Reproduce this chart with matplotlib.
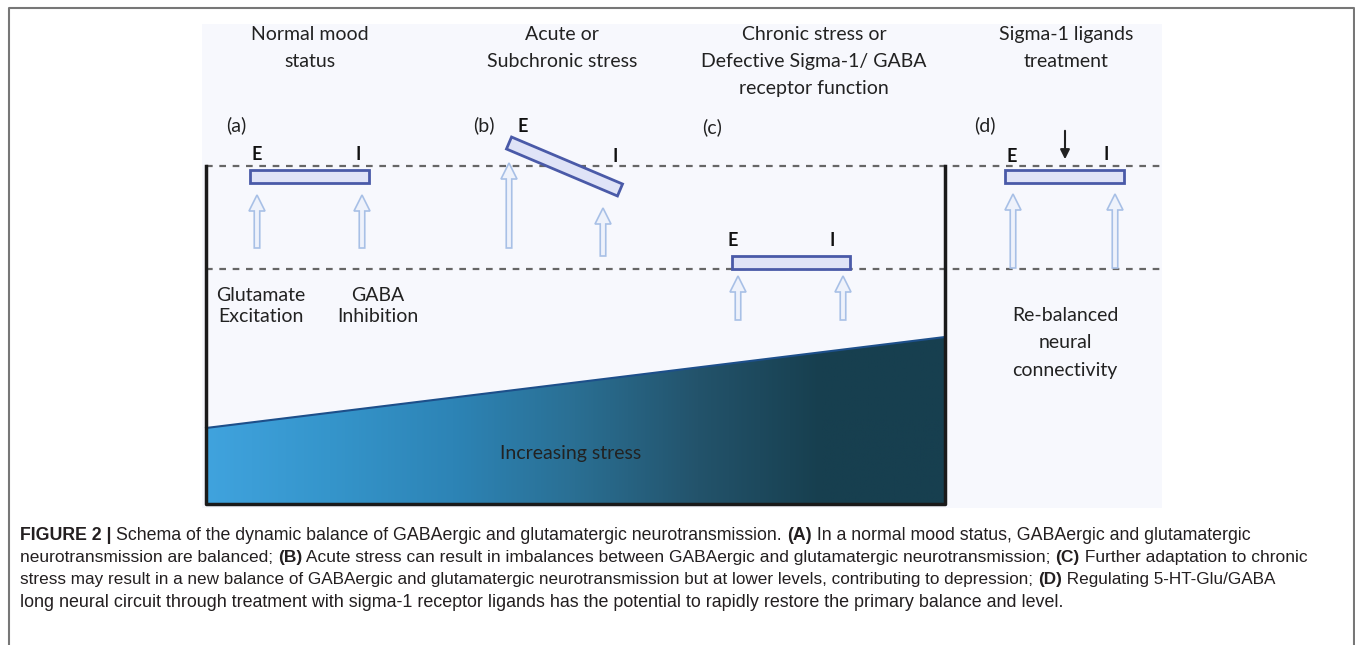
import numpy as np
import matplotlib
matplotlib.use("Agg")
from matplotlib import pyplot as plt
from matplotlib.patches import Rectangle, Polygon, FancyArrow
from matplotlib.colors import LinearSegmentedColormap

# panel headings and labels
titles = ["Normal mood\nstatus", "Acute or\nSubchronic stress",
          "Chronic stress or\nDefective Sigma-1/ GABA\nreceptor function",
          "Sigma-1 ligands\ntreatment"]
title_x = [310, 562, 814, 1066]
panel_tags = ["(a)", "(b)", "(c)", "(d)"]
tag_x = [236, 484, 712, 985]
tag_y = [125, 125, 127, 125]

# balance beams: (x_left, y_left, x_right, y_right) in pixel space
beams = [(250, 176, 369, 176), (509, 143, 620, 190), (732, 262, 850, 262), (1005, 176, 1124, 176)]
e_labels = [(257, 155), (523, 127), (733, 240), (1012, 156)]
i_labels = [(358, 155), (615, 157), (832, 240), (1106, 155)]
# hollow arrows: x, y_tail, y_tip
arrows = [(257, 248, 195), (362, 248, 195),
          (509, 248, 163), (603, 256, 208),
          (738, 320, 276), (843, 320, 276),
          (1013, 268, 194), (1115, 268, 194)]

levels = [166, 269]           # dashed reference levels
stress_left, stress_right = 428, 337
stress_colors = ["#40a3de", "#3595cb", "#2d84b6", "#2a6f93", "#23536b", "#173f4f", "#173f4f"]

caption = [
    [("FIGURE 2 | ", True), ("Schema of the dynamic balance of GABAergic and glutamatergic neurotransmission. ", False),
     ("(A)", True), (" In a normal mood status, GABAergic and glutamatergic", False)],
    [("neurotransmission are balanced; ", False), ("(B)", True),
     (" Acute stress can result in imbalances between GABAergic and glutamatergic neurotransmission; ", False),
     ("(C)", True), (" Further adaptation to chronic", False)],
    [("stress may result in a new balance of GABAergic and glutamatergic neurotransmission but at lower levels, contributing to depression; ", False),
     ("(D)", True), (" Regulating 5-HT-Glu/GABA", False)],
    [("long neural circuit through treatment with sigma-1 receptor ligands has the potential to rapidly restore the primary balance and level.", False)],
]
caption_sizes = [12.8, 12.5, 12.3, 12.9]

W, H = 1355, 645
fig = plt.figure(figsize=(W / 100, H / 100), dpi=100)
ax = fig.add_axes([0, 0, 1, 1])
ax.set_xlim(0, W)
ax.set_ylim(H, 0)
ax.axis("off")

lato = ["Lato", "DejaVu Sans"]
cap_font = ["Liberation Sans", "DejaVu Sans"]
dark = "#222222"
fs = 14

# outer frame
ax.plot([9, 9, 1354, 1354], [H, 8, 8, H], color="#777777", lw=1.5, zorder=1)

# light panel
ax.add_patch(Rectangle((202, 24), 960, 484, facecolor="#f7f8fd", edgecolor="none", zorder=0))

# stress wedge with gradient
grad = np.linspace(0, 1, 256).reshape(1, -1)
cmap = LinearSegmentedColormap.from_list("stress", stress_colors)
im = ax.imshow(grad, cmap=cmap, extent=(206, 945, 504, stress_right), aspect="auto", zorder=2)
wedge = Polygon([(206, 504), (206, stress_left), (945, stress_right), (945, 504)], closed=True,
                facecolor="none", edgecolor="none")
ax.add_patch(wedge)
im.set_clip_path(wedge)
ax.plot([206, 945], [stress_left, stress_right], color="#1d4f8a", lw=1.5, zorder=3)
ax.text(571, 453, "Increasing stress", ha="center", va="center", fontsize=fs, color=dark,
        family=lato, zorder=4)

# box lines
ax.plot([206, 206, 945, 945], [levels[0], 504, 504, levels[0]], color="#1a1a1a", lw=2.5, zorder=4)

# dashed levels
for y in levels:
    ax.plot([206, 1160], [y, y], color="#666666", lw=1.6, ls=(0, (3, 3)), zorder=3)

for t, x in zip(titles, title_x):
    ax.text(x, 26, t, ha="center", va="top", fontsize=fs, color=dark, family=lato, linespacing=1.72)
for t, x, y in zip(panel_tags, tag_x, tag_y):
    ax.text(x, y, t, ha="center", va="center", fontsize=fs, color=dark, family=lato)

# arrows
for x, y0, y1 in arrows:
    ax.add_patch(FancyArrow(x, y0, 0, y1 - y0, width=5.5, head_width=16, head_length=16,
                            length_includes_head=True, facecolor="#eef2fb", edgecolor="#a8c0e6",
                            lw=1.2, zorder=5))

# beams
for (x0, y0, x1, y1) in beams:
    d = np.array([x1 - x0, y1 - y0], float)
    n = np.array([-d[1], d[0]]) / np.hypot(*d) * 6.5
    pts = [(x0 + n[0], y0 + n[1]), (x1 + n[0], y1 + n[1]), (x1 - n[0], y1 - n[1]), (x0 - n[0], y0 - n[1])]
    ax.add_patch(Polygon(pts, closed=True, facecolor="#dfe3f7", edgecolor="#4a5aa8", lw=2, zorder=6))
for x, y in e_labels:
    ax.text(x, y, "E", ha="center", va="center", fontsize=13, fontweight="bold", color="#111111", family=lato)
for x, y in i_labels:
    ax.text(x, y, "I", ha="center", va="center", fontsize=13, fontweight="bold", color="#111111", family=lato)

# treatment arrow
ax.annotate("", xy=(1065, 162), xytext=(1065, 128),
            arrowprops=dict(arrowstyle="-|>", color="#222222", lw=1.5, mutation_scale=14))

ax.text(261, 306, "Glutamate\nExcitation", ha="center", va="center", fontsize=fs, color=dark,
        family=lato, linespacing=1.35)
ax.text(378, 306, "GABA\nInhibition", ha="center", va="center", fontsize=fs, color=dark,
        family=lato, linespacing=1.35)
ax.text(1065, 343, "Re-balanced\nneural\nconnectivity", ha="center", va="center", fontsize=fs,
        color=dark, family=lato, linespacing=1.72)

# caption with bold pieces
for i, (line, size) in enumerate(zip(caption, caption_sizes)):
    prev = None
    for seg, bold in line:
        kw = dict(fontsize=size, color="#231f20", family=cap_font,
                  fontweight="bold" if bold else "normal", va="baseline", ha="left")
        if prev is None:
            prev = ax.text(20, 540 + i * 22.2, seg, **kw)
        else:
            prev = ax.annotate(seg, xy=(1, 0), xycoords=prev, **kw)
            prev.set_va("bottom")

fig.savefig("out.png", dpi=100)
